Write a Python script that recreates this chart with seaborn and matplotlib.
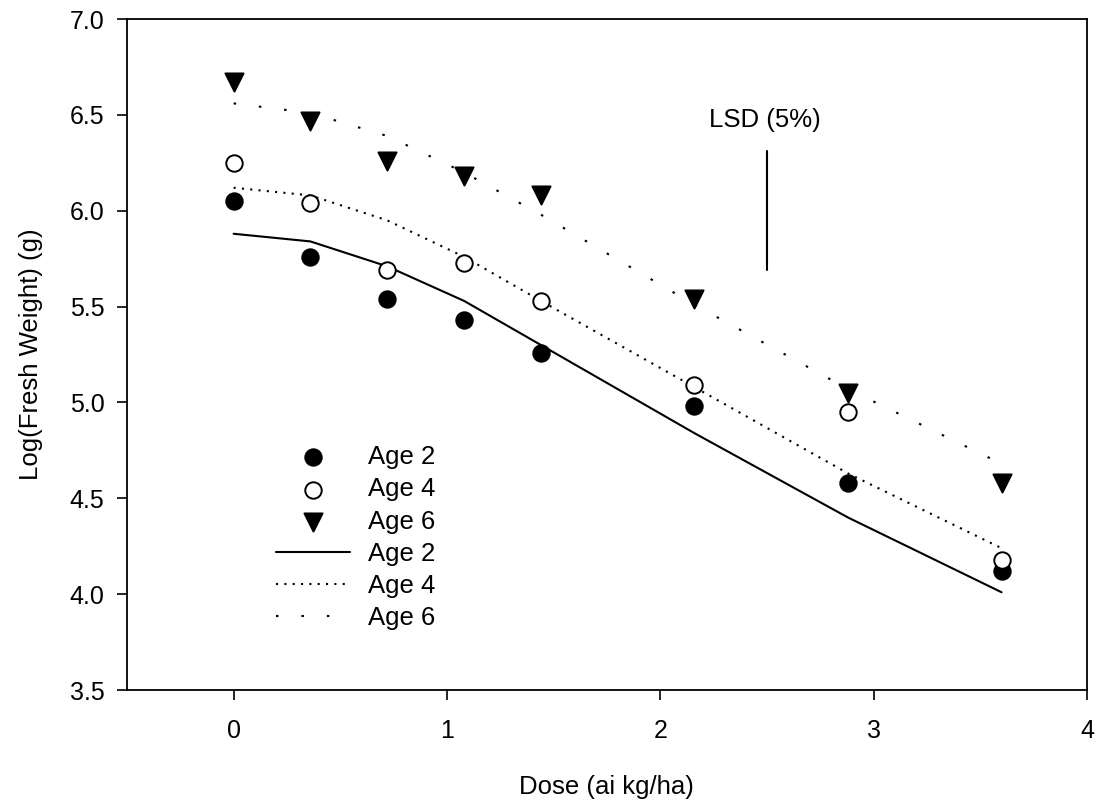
import matplotlib
matplotlib.use('Agg')
import matplotlib.pyplot as plt
import pandas as pd
import seaborn as sns

dose = [0, 0.36, 0.72, 1.08, 1.44, 2.16, 2.88, 3.6]
obs_age2 = [6.05, 5.76, 5.54, 5.43, 5.26, 4.98, 4.58, 4.12]
obs_age4 = [6.25, 6.04, 5.69, 5.73, 5.53, 5.09, 4.95, 4.18]
obs_age6 = [6.67, 6.47, 6.26, 6.18, 6.08, 5.54, 5.05, 4.58]
fit_age2 = [5.88, 5.84, 5.71, 5.53, 5.30, 4.84, 4.40, 4.01]
fit_age4 = [6.12, 6.08, 5.95, 5.76, 5.53, 5.08, 4.63, 4.24]
fit_age6 = [6.56, 6.51, 6.39, 6.20, 5.98, 5.51, 5.07, 4.68]
labels = ['Age 2', 'Age 4', 'Age 6']
lsd_x = 2.5
lsd_lo, lsd_hi = 5.69, 6.31

sns.set_style("ticks")
plt.rcParams['font.family'] = ['Liberation Sans', 'DejaVu Sans']
plt.rcParams.update({'text.color': 'black', 'axes.labelcolor': 'black',
                     'xtick.color': 'black', 'ytick.color': 'black',
                     'axes.edgecolor': 'black'})

fig = plt.figure(figsize=(11.02, 8.10), dpi=100)
ax = fig.add_axes([0.1152, 0.1481, 0.8711, 0.8284])

# measured points
markers = ['o', 'o', 'v']
faces = ['black', 'white', 'black']
for vals, mk, fc, lab in zip([obs_age2, obs_age4, obs_age6], markers, faces, labels):
    df = pd.DataFrame({'dose': dose, 'w': vals})
    sns.scatterplot(data=df, x='dose', y='w', marker=mk, s=140 if mk == 'o' else 170,
                    color=fc, edgecolor='black', linewidth=1.4, ax=ax, label=lab, zorder=3)

# fitted curves
styles = ['-', (0, (1, 3)), (0, (1.2, 11))]
for vals, ls, lab in zip([fit_age2, fit_age4, fit_age6], styles, labels):
    df = pd.DataFrame({'dose': dose, 'w': vals})
    sns.lineplot(data=df, x='dose', y='w', color='black', linewidth=1.5, linestyle=ls,
                 ax=ax, label=lab)

ax.plot([lsd_x, lsd_x], [lsd_lo, lsd_hi], color='black', linewidth=1.5)
ax.text(lsd_x - 0.01, 6.473, 'LSD (5%)', ha='center', va='center', fontsize=18.5)

ax.set_xlim(-0.5, 4)
ax.set_ylim(3.5, 7.0)
ax.set_xticks([0, 1, 2, 3, 4])
ax.set_yticks([3.5, 4.0, 4.5, 5.0, 5.5, 6.0, 6.5, 7.0])
ax.set_yticklabels(['3.5', '4.0', '4.5', '5.0', '5.5', '6.0', '6.5', '7.0'])
ax.tick_params(labelsize=18, length=7.2, width=1.2, direction='out')
ax.tick_params(axis='x', pad=14)
ax.tick_params(axis='y', pad=9)
ax.set_xlabel('Dose (ai kg/ha)', fontsize=18.5, labelpad=23)
ax.set_ylabel('Log(Fresh Weight) (g)', fontsize=18.5, labelpad=19)
for s in ax.spines.values():
    s.set_linewidth(1.3)

ax.legend(loc='upper left', bbox_to_anchor=(0.155, 0.365), frameon=False, fontsize=18.5,
          handlelength=2.9, labelspacing=0.32, handletextpad=0.7,
          borderpad=0, borderaxespad=0)

fig.savefig('out.png', dpi=100)
